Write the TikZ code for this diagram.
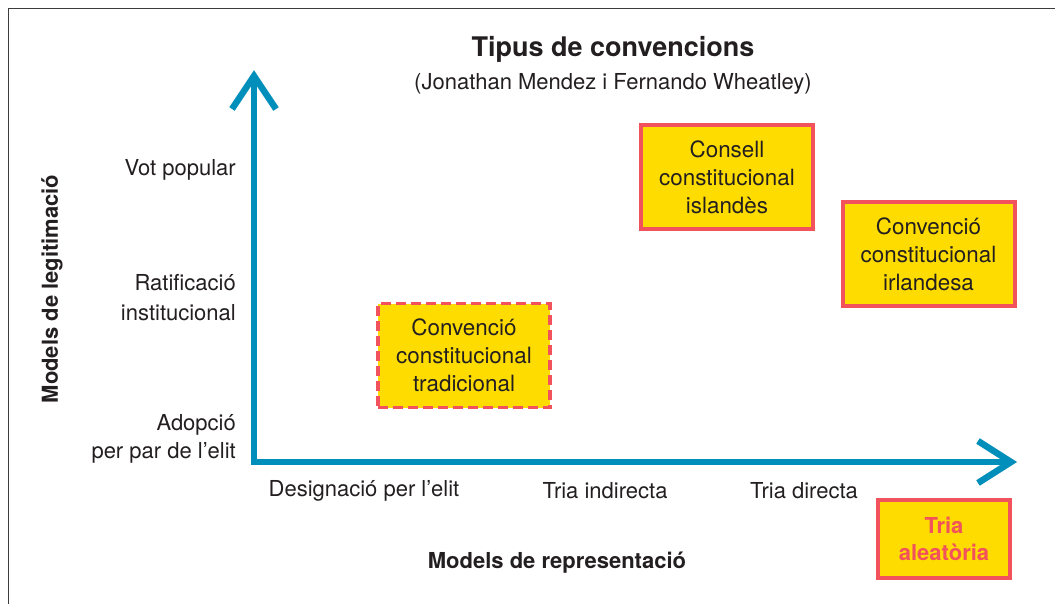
\documentclass[tikz,border=0pt]{standalone}
\usepackage{fontspec}
\setmainfont{TeX Gyre Heros}
\usetikzlibrary{calc}
\definecolor{axisblue}{RGB}{0,142,186}
\definecolor{boxfill}{RGB}{255,220,0}
\definecolor{boxedge}{RGB}{241,82,92}
\definecolor{txt}{RGB}{35,31,32}
\definecolor{framegray}{RGB}{60,60,60}
\tikzset{
  x=1pt,y=-1pt,
  lbl/.style={text=txt,font=\fontsize{22}{29}\selectfont,inner sep=0pt},
  boxnode/.style={draw=boxedge,fill=boxfill,line width=4pt,text=txt,
    font=\fontsize{22.4}{28}\selectfont,align=center,minimum width=172pt,minimum height=104pt,inner sep=0pt},
  axisline/.style={draw=axisblue,line width=6.5pt,miter limit=10},
}
\begin{document}
\begin{tikzpicture}
\useasboundingbox (0,0) rectangle (1055,604);
\fill[white] (0,0) rectangle (1055,604);
% frame
\draw[framegray,line width=1.5pt] (8.5,604) -- (8.5,8.5) -- (1055,8.5);
% title
\node[text=txt,font=\bfseries\fontsize{27}{32}\selectfont,inner sep=0pt] (title) at (613,49) {Tipus de convencions};
\node[lbl] (sub) at (613,84) {(Jonathan Mendez i Fernando Wheatley)};
% axes
\coordinate (vtip) at (254,76);
\coordinate (orig) at (254,462);
\coordinate (htip) at (1011,462);
\draw[axisline,line join=miter] (vtip) -- (orig) -- (htip);
\draw[axisline,line join=miter] ($(vtip)+(-22,33)$) -- (vtip) -- ($(vtip)+(22,33)$);
\draw[axisline,line join=miter] ($(htip)+(-33,-21)$) -- (htip) -- ($(htip)+(-33,21)$);
% y labels
\node[lbl,anchor=east] (vot) at (236,170) {Vot popular};
\node[lbl,anchor=east,align=right,font=\fontsize{22}{30}\selectfont] (rat) at (236,298) {Ratificació\\institucional};
\node[lbl,anchor=east,align=right,font=\fontsize{22}{28}\selectfont] (adop) at (236,439) {Adopció\\per par de l’elit};
\node[text=txt,font=\bfseries\fontsize{22}{28}\selectfont,rotate=90,inner sep=0pt] (ytitle) at (52,289) {Models de legitimació};
% x labels
\node[lbl] (desig) at (364,491) {Designació per l’elit};
\node[lbl] (ind) at (605,491) {Tria indirecta};
\node[lbl] (dir) at (804,491) {Tria directa};
\node[text=txt,font=\bfseries\fontsize{22}{28}\selectfont,inner sep=0pt] (xtitle) at (557,563) {Models de representació};
% boxes
\node[boxnode] (isl) at (727,177.5) {Consell\\constitucional\\islandès};
\node[boxnode] (irl) at (928.5,254) {Convenció\\constitucional\\irlandesa};
\node[boxnode,dash pattern=on 10pt off 5pt,line width=3.5pt] (trad) at (464,355.5) {Convenció\\constitucional\\tradicional};
\node[boxnode,minimum width=132pt,minimum height=78pt,text=boxedge,font=\bfseries\fontsize{22}{27}\selectfont] (alea) at (944,539) {Tria\\aleatòria};
\end{tikzpicture}
\end{document}
